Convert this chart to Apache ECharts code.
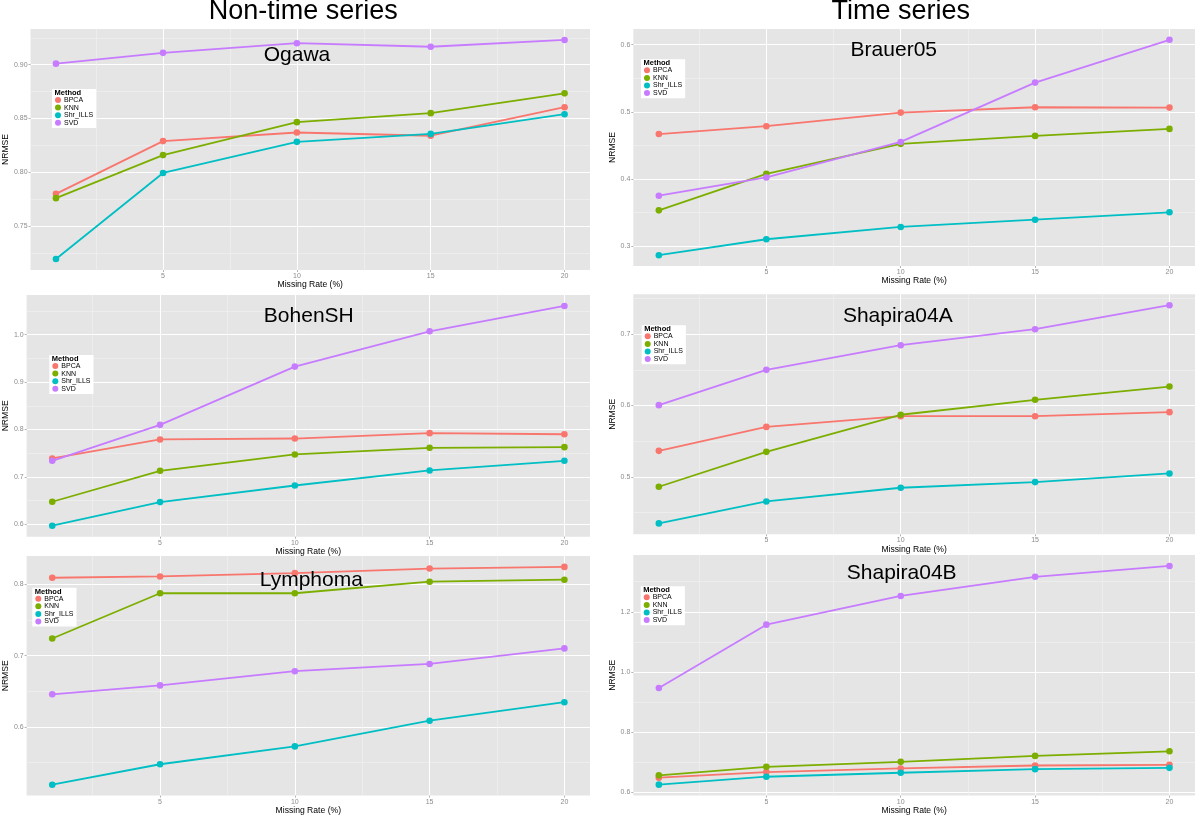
<!DOCTYPE html>
<html><head><meta charset="utf-8">
<script src="https://cdn.jsdelivr.net/npm/echarts@6/dist/echarts.min.js"></script>
<style>html,body{margin:0;padding:0;background:#fff}#c{width:1200px;height:816px}</style>
</head><body><div id="c"></div>
<script>
// ---------- data ----------
const missingRate = [1, 5, 10, 15, 20];
const methods = ['BPCA', 'KNN', 'Shr_ILLS', 'SVD'];
const xTickLabels = ['5', '10', '15', '20'];
const sectionTitles = ['Non-time series', 'Time series'];

const ogawaBPCA = [0.780, 0.829, 0.837, 0.834, 0.8605];
const ogawaKNN = [0.776, 0.816, 0.8466, 0.855, 0.8734];
const ogawaShr = [0.7194, 0.7994, 0.8283, 0.8357, 0.854];
const ogawaSVD = [0.901, 0.911, 0.920, 0.9167, 0.923];
const ogawaYTicks = ['0.75', '0.80', '0.85', '0.90'];

const brauerBPCA = [0.467, 0.4787, 0.499, 0.5069, 0.5064];
const brauerKNN = [0.3534, 0.4078, 0.4524, 0.4643, 0.4747];
const brauerShr = [0.2866, 0.3104, 0.3287, 0.3395, 0.3505];
const brauerSVD = [0.3752, 0.4024, 0.4553, 0.5436, 0.6074];
const brauerYTicks = ['0.3', '0.4', '0.5', '0.6'];

const bohenBPCA = [0.739, 0.779, 0.781, 0.7923, 0.790];
const bohenKNN = [0.6477, 0.713, 0.7474, 0.7614, 0.7628];
const bohenShr = [0.5972, 0.647, 0.682, 0.7137, 0.734];
const bohenSVD = [0.734, 0.8098, 0.9326, 1.007, 1.0604];
const bohenYTicks = ['0.6', '0.7', '0.8', '0.9', '1.0'];

const shapABPCA = [0.5364, 0.570, 0.585, 0.585, 0.5907];
const shapAKNN = [0.486, 0.535, 0.587, 0.608, 0.6266];
const shapAShr = [0.4346, 0.4654, 0.4846, 0.4925, 0.5047];
const shapASVD = [0.6005, 0.650, 0.6846, 0.707, 0.7407];
const shapAYTicks = ['0.5', '0.6', '0.7'];

const lymphBPCA = [0.8093, 0.8111, 0.8157, 0.8222, 0.8245];
const lymphKNN = [0.7241, 0.7875, 0.7875, 0.8037, 0.8065];
const lymphShr = [0.519, 0.5477, 0.5727, 0.6088, 0.6347];
const lymphSVD = [0.6458, 0.6583, 0.6782, 0.6884, 0.7102];
const lymphYTicks = ['0.6', '0.7', '0.8'];

const shapBBPCA = [0.6481, 0.6668, 0.6789, 0.6887, 0.6909];
const shapBKNN = [0.6559, 0.6844, 0.7009, 0.7206, 0.736];
const shapBShr = [0.625, 0.6514, 0.6646, 0.6766, 0.681];
const shapBSVD = [0.9466, 1.1572, 1.2527, 1.3163, 1.3525];
const shapBYTicks = ['0.6', '0.8', '1.0', '1.2'];

const panels = [
  { title: 'Ogawa', values: [ogawaBPCA, ogawaKNN, ogawaShr, ogawaSVD], yTicks: ogawaYTicks },
  { title: 'Brauer05', values: [brauerBPCA, brauerKNN, brauerShr, brauerSVD], yTicks: brauerYTicks },
  { title: 'BohenSH', values: [bohenBPCA, bohenKNN, bohenShr, bohenSVD], yTicks: bohenYTicks },
  { title: 'Shapira04A', values: [shapABPCA, shapAKNN, shapAShr, shapASVD], yTicks: shapAYTicks },
  { title: 'Lymphoma', values: [lymphBPCA, lymphKNN, lymphShr, lymphSVD], yTicks: lymphYTicks },
  { title: 'Shapira04B', values: [shapBBPCA, shapBKNN, shapBShr, shapBSVD], yTicks: shapBYTicks }
];

// ---------- layout & style ----------
const FONT = 'Liberation Sans, Arial, Helvetica, sans-serif';
const colors = ['#F8766D', '#7CAE00', '#00BFC4', '#C77CFF'];
const layout = [
  { l: 28.3, t: 29, w: 561.7, h: 241, yGap: 15, xName: 282, tx: 297, ty: 47.7, lgL: 52, lgT: 89 },
  { l: 633.3, t: 29, w: 561.7, h: 237, yGap: 11, xName: 277, tx: 893.8, ty: 42, lgL: 641, lgT: 59.3 },
  { l: 24.3, t: 295, w: 565.7, h: 241.7, yGap: 11, xName: 546.7, tx: 308.8, ty: 308.3, lgL: 49.3, lgT: 355 },
  { l: 633.3, t: 294.3, w: 561.7, h: 240, yGap: 11, xName: 547, tx: 897.8, ty: 308.3, lgL: 641.7, lgT: 325.3 },
  { l: 24.3, t: 556, w: 565.7, h: 242.3, yGap: 11.6, xName: 809, tx: 311.3, ty: 572.7, lgL: 32.3, lgT: 587.7 },
  { l: 633.3, t: 555, w: 561.7, h: 243.3, yGap: 11, xName: 808, tx: 901.7, ty: 565, lgL: 640.7, lgT: 586.3 }
];
const sectionLayout = [{ x: 303.2, y: 1.7 }, { x: 900.8, y: 1.7 }];

const grids = [], xAxes = [], yAxes = [], series = [], legends = [], graphics = [];

function minorOf(ticks, lo, hi) {
  const step = ticks[1] - ticks[0];
  const out = [];
  for (let k = -1; k < ticks.length; k++) {
    const v = ticks[0] + (k + 0.5) * step;
    if (v > lo && v < hi) out.push(+v.toFixed(6));
  }
  return out;
}

const xVals = xTickLabels.map(Number);
const xlo = Math.min(...missingRate), xhi = Math.max(...missingRate);
const xpad = (xhi - xlo) * 0.05;
const xmin = xlo - xpad, xmax = xhi + xpad;
const xMinor = minorOf(xVals, xmin, xmax);

panels.forEach((p, i) => {
  const L = layout[i];
  const all = p.values.flat();
  const lo = Math.min(...all), hi = Math.max(...all), pad = (hi - lo) * 0.05;
  const ymin = lo - pad, ymax = hi + pad;
  const yVals = p.yTicks.map(Number);
  const yMinor = minorOf(yVals, ymin, ymax);
  const b = L.t + L.h;

  grids.push({ left: L.l, top: L.t, width: L.w, height: L.h, show: true, backgroundColor: '#E5E5E5', borderWidth: 0, containLabel: false });

  xAxes.push({ gridIndex: i, type: 'value', min: xmin, max: xmax, position: 'top',
    axisLine: { show: false, onZero: false }, axisTick: { show: false, customValues: xMinor },
    axisLabel: { show: false, customValues: xMinor },
    splitLine: { show: true, lineStyle: { color: '#F2F2F2', width: 0.6 } } });
  const majorX = xAxes.length;
  xAxes.push({ gridIndex: i, type: 'value', min: xmin, max: xmax, position: 'bottom',
    axisLine: { show: false, onZero: false },
    axisTick: { show: true, length: 2, customValues: xVals, lineStyle: { color: '#A0A0A0', width: 0.8 } },
    axisLabel: { customValues: xVals, margin: 2.5, fontSize: 7, color: '#8C8C8C', fontFamily: FONT,
      formatter: v => xTickLabels[xVals.findIndex(t => Math.abs(t - v) < 1e-9)] },
    splitLine: { show: true, lineStyle: { color: '#FFFFFF', width: 1 } },
    name: 'Missing Rate (%)', nameLocation: 'middle', nameGap: L.xName - b - 4.3,
    nameTextStyle: { fontSize: 8.6, color: '#000', fontFamily: FONT } });

  yAxes.push({ gridIndex: i, type: 'value', min: ymin, max: ymax, position: 'right',
    axisLine: { show: false, onZero: false }, axisTick: { show: false, customValues: yMinor },
    axisLabel: { show: false, customValues: yMinor },
    splitLine: { show: true, lineStyle: { color: '#F2F2F2', width: 0.6 } } });
  const majorY = yAxes.length;
  yAxes.push({ gridIndex: i, type: 'value', min: ymin, max: ymax, position: 'left',
    axisLine: { show: false, onZero: false },
    axisTick: { show: true, length: 2, customValues: yVals, lineStyle: { color: '#A0A0A0', width: 0.8 } },
    axisLabel: { customValues: yVals, margin: 3, fontSize: 7, color: '#8C8C8C', fontFamily: FONT,
      formatter: v => p.yTicks[yVals.findIndex(t => Math.abs(t - v) < 1e-9)] },
    splitLine: { show: true, lineStyle: { color: '#FFFFFF', width: 1 } },
    name: 'NRMSE', nameLocation: 'middle', nameGap: L.yGap, nameRotate: 90,
    nameTextStyle: { fontSize: 8.6, color: '#000', fontFamily: FONT } });

  p.values.forEach((vals, m) => {
    series.push({ type: 'line', name: methods[m], xAxisIndex: majorX, yAxisIndex: majorY,
      data: missingRate.map((x, k) => [x, vals[k]]),
      symbol: 'circle', symbolSize: 6.6, showSymbol: true,
      lineStyle: { width: 1.8, color: colors[m] }, itemStyle: { color: colors[m] },
      emphasis: { disabled: true }, z: 2 + m, animation: false });
  });

  legends.push({ left: L.lgL, top: L.lgT, orient: 'vertical', data: methods, icon: 'circle',
    itemWidth: 6, itemHeight: 6, itemGap: 0, padding: [7.2, 3, 1.3, 3], backgroundColor: '#FFFFFF',
    selectedMode: false,
    textStyle: { fontSize: 7, lineHeight: 7.6, color: '#000', fontFamily: FONT, padding: [0, 0, 0, -2] } });

  graphics.push({ type: 'text', x: L.lgL + 2.5, y: L.lgT + 4, z: 100,
    style: { text: 'Method', font: 'bold 7.5px ' + FONT, fill: '#000', align: 'left', verticalAlign: 'middle' } });

  graphics.push({ type: 'text', x: L.tx, y: L.ty - 2.7, z: 100,
    style: { text: p.title, font: '21px ' + FONT, fill: '#000', align: 'center', verticalAlign: 'top' } });
});

sectionTitles.forEach((s, k) => {
  graphics.push({ type: 'text', x: sectionLayout[k].x, y: sectionLayout[k].y - 3.5, z: 100,
    style: { text: s, font: '27px ' + FONT, fill: '#000', align: 'center', verticalAlign: 'top' } });
});

const chart = echarts.init(document.getElementById('c'), null, { renderer: 'canvas' });
chart.setOption({
  backgroundColor: '#FFFFFF',
  animation: false,
  textStyle: { fontFamily: FONT },
  grid: grids, xAxis: xAxes, yAxis: yAxes, series: series, legend: legends,
  graphic: { elements: graphics }
});
</script></body></html>
